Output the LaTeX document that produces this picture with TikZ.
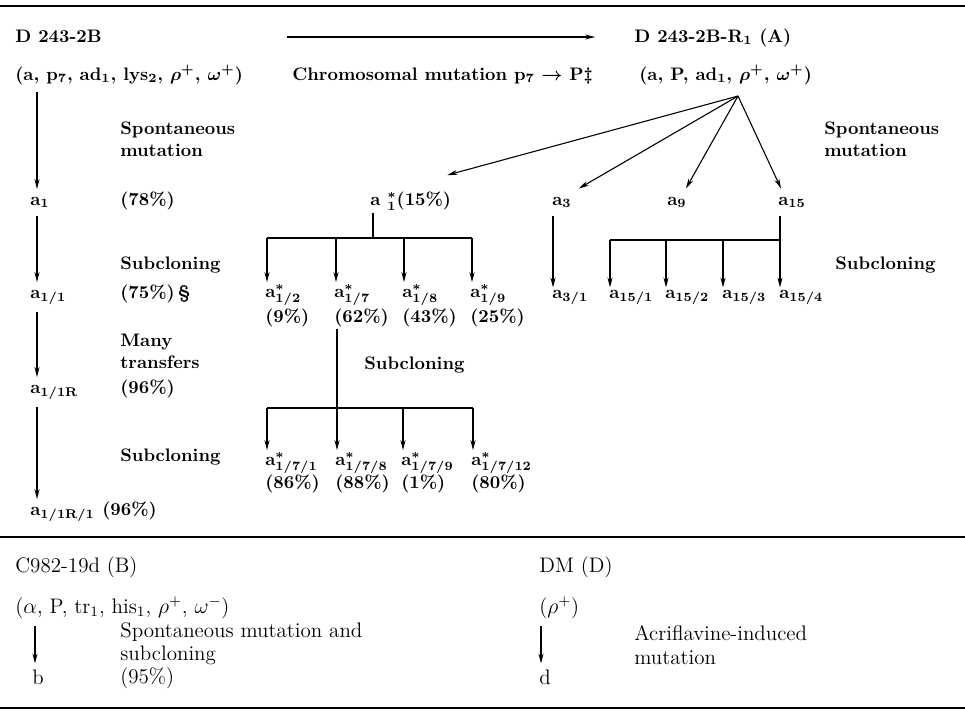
\documentclass[tikz,border=0pt]{standalone}
\usetikzlibrary{arrows.meta,calc}

\tikzset{
  arr/.style={-{Stealth[length=5.5pt,width=2.8pt]}},
  rule/.style={line width=1.6pt},
  lbl/.style={anchor=base west, inner sep=1pt},
  note/.style={anchor=west, align=left, inner sep=1pt},
  plain/.style={font=\normalfont\unboldmath\fontsize{11.6}{12.8}\selectfont},
}

\begin{document}
\begin{tikzpicture}[x=0.0194cm, y=-0.0194cm, font=\bfseries\boldmath, line width=0.6pt]
\useasboundingbox (0,0) rectangle (965,715);

\def\colL{37}    % strain line, left column
\def\colT{118}   % treatment texts

% rules
\draw[rule] (0,6) -- (965,6);
\draw[rule] (0,537) -- (965,537);
\draw[rule] (0,708) -- (965,708);

% strain A: header
\node[lbl] (hdrL) at (13,42) {D 243-2B};
\node[lbl] (hdrR) at (632,42) {D 243-2B-R$_1$ (A)};
\coordinate (cmL) at (287,37);
\coordinate (cmR) at (595,37);
\draw[arr] (cmL) -- (cmR);
\node[lbl] (genL) at (13,80) {(a, p$_7$, ad$_1$, lys$_2$, $\rho^+$, $\omega^+$)};
\node[lbl] (genM) at (290,80) {Chromosomal mutation p$_7$ $\rightarrow$ P\ddag};
\node[lbl] (genR) at (637,80) {(a, P, ad$_1$, $\rho^+$, $\omega^+$)};

% left column
\coordinate (L) at (\colL,0);
\node[lbl] (a1) at (28,205) {a$_1$};
\node[lbl] (a11) at (28,298) {a$_{1/1}$};
\node[lbl] (a11R) at (28,393) {a$_{1/1\mathrm{R}}$};
\node[lbl] (a11R1) at (28,515) {a$_{1/1\mathrm{R}/1}$};
\draw[arr, shorten <=3pt, shorten >=3pt] (genL.south -| L) -- (a1.north -| L);
\draw[arr, shorten <=3pt, shorten >=3pt] (a1.south -| L) -- (a11.north -| L);
\draw[arr, shorten <=3pt, shorten >=3pt] (a11.south -| L) -- (a11R.north -| L);
\draw[arr, shorten <=3pt, shorten >=3pt] (a11R.south -| L) -- (a11R1.north -| L);

\node[note] (tSp) at (\colT,139) {Spontaneous\\mutation};
\node[lbl] (p1) at (\colT,205) {(78\%)};
\node[note] (tSc1) at (\colT,265) {Subcloning};
\node[lbl] (p11) at (\colT,298) {(75\%)\,\S};
\node[note] (tMt) at (\colT,351) {Many\\transfers};
\node[lbl] (p11R) at (\colT,393) {(96\%)};
\node[note] (tSc2) at (\colT,457) {Subcloning};
\node[lbl] (p11R1) at (100,515) {(96\%)};

% spontaneous mutants of A
\coordinate (apex) at (738,96);
\node[lbl] (a1s) at (368,205) {a $^{*}_{1}$(15\%)};
\node[lbl] (a3) at (550,205) {a$_3$};
\node[lbl] (a9) at (665,205) {a$_9$};
\node[lbl] (a15) at (776,205) {a$_{15}$};
\draw[arr] (apex) -- ($(a1s.north east)+(-6,-14)$);
\draw[arr] (apex) -- ($(a3.north east)+(5,-6)$);
\draw[arr] (apex) -- ($(a9.north east)+(-3,-6)$);
\draw[arr] (apex) -- ($(a15.north west)+(5,-6)$);
\node[note] (tSpR) at (822,139) {Spontaneous\\mutation};
\node[note] (tScR) at (833,265) {Subcloning};

% subclones of a*1
\coordinate (k) at (373,238);
\draw (a1s.south -| k) -- (k);
\foreach \x/\n/\lab/\pct in {267/2/{1/2}/9, 336/7/{1/7}/62, 404/8/{1/8}/43, 472/9/{1/9}/25}
{
  \coordinate (k\n) at (\x,238);
  \node[lbl] (s\n) at (\x-4,297) {a$^{*}_{\lab}$};
  \node[lbl] (ps\n) at (\x-4,322) {(\pct\%)};
  \draw[arr] (k\n) -- (k\n |- s\n.north);
}
\draw (k2) -- (k9);

% subclones of a*1/7
\coordinate (j) at (337,408);
\draw (ps7.south -| j) -- (j);
\foreach \x/\n/\lab/\pct in {267/1/{1/7/1}/86, 337/8/{1/7/8}/88, 403/9/{1/7/9}/1, 473/12/{1/7/12}/80}
{
  \coordinate (j\n) at (\x,408);
  \node[lbl] (t\n) at (\x-4,465) {a$^{*}_{\lab}$};
  \node[lbl] (pt\n) at (\x-4,488) {(\pct\%)};
  \draw[arr] (j\n) -- (j\n |- t\n.north);
}
\draw (j1) -- (j12);
\node[note] (tSc3) at (362,365) {Subcloning};

% subclones of a3 and a15
\node[lbl] (a31) at (550,298) {a$_{3/1}$};
\coordinate (R3) at (553,0);
\draw[arr, shorten <=3pt] (a3.south -| R3) -- (a31.north -| R3);
\coordinate (h) at (780,240);
\draw[shorten <=3pt] (a15.south -| h) -- (h);
\foreach \x/\n in {610/1, 666/2, 723/3, 780/4}
{
  \coordinate (h\n) at (\x,240);
  \node[lbl] (c\n) at (\x-3,298) {a$_{15/\n}$};
  \draw[arr] (h\n) -- (h\n |- c\n.north);
}
\draw (h1) -- (h4);

% strains B and D
\begin{scope}[plain]
\node[lbl] (hdrB) at (13,572) {C982-19d (B)};
\node[lbl] (genB) at (13,613) {($\alpha$, P, tr$_1$, his$_1$, $\rho^+$, $\omega^-$)};
\node[lbl] (b) at (30,684) {b};
\coordinate (LB) at (35,0);
\draw[arr, shorten <=3pt, shorten >=2pt] (genB.south -| LB) -- (b.north -| LB);
\node[note] (tB) at (\colT,656) {Spontaneous mutation and\\subcloning\\(95\%)};

\node[lbl] (hdrD) at (537,572) {DM (D)};
\node[lbl] (genD) at (537,613) {($\rho^+$)};
\node[lbl] (d) at (537,684) {d};
\coordinate (LD) at (541,0);
\draw[arr, shorten <=3pt, shorten >=2pt] (genD.south -| LD) -- (d.north -| LD);
\node[note] (tD) at (632,645) {Acriflavine-induced\\mutation};
\end{scope}

\end{tikzpicture}
\end{document}
